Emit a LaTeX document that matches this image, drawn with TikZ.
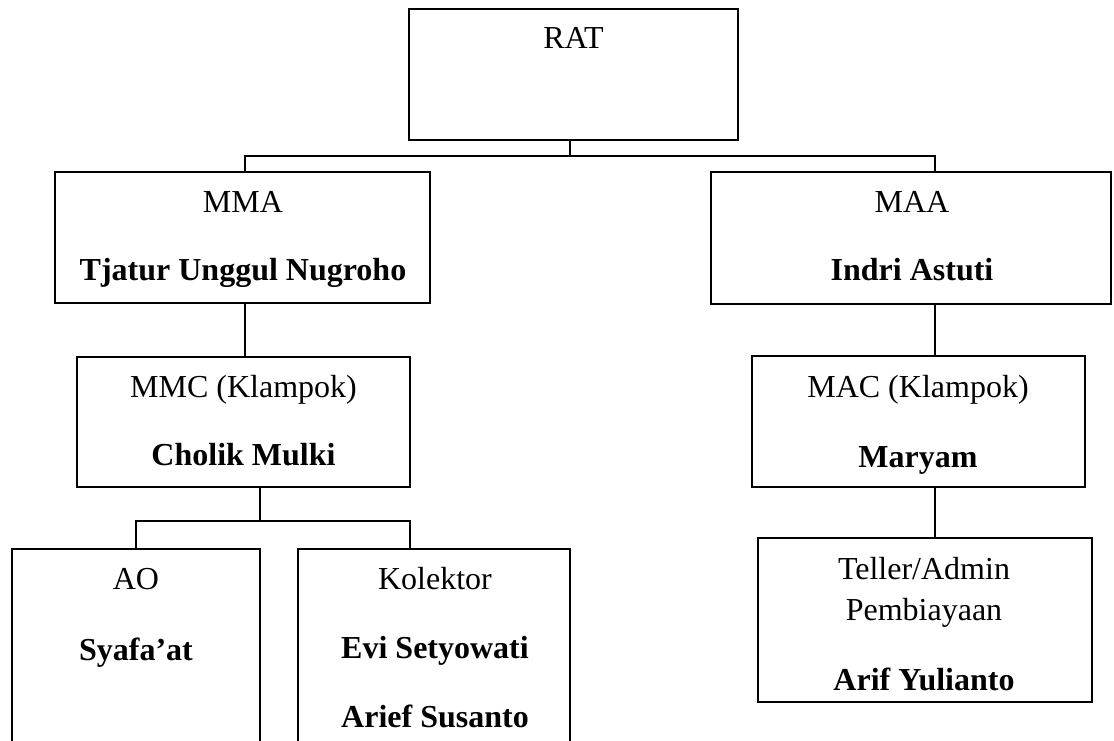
\documentclass[tikz,border=0pt]{standalone}
\usepackage{fontspec}
\setmainfont{Liberation Serif}
\begin{document}
\begin{tikzpicture}[x=1pt,y=-1pt,
  line width=1.9pt,
  box/.style={draw, line width=1.9pt, inner sep=0pt, outer sep=0pt},
  lbl/.style={font=\fontsize{32}{38}\selectfont, anchor=base, inner sep=0pt},
  blbl/.style={font=\fontsize{32}{38}\selectfont\bfseries, anchor=base, inner sep=0pt}]
\useasboundingbox (0,0) rectangle (1114,740);
\clip (0,0) rectangle (1114,740);
% boxes
\node[box, minimum width=329pt, minimum height=131pt] (rat) at (573.5,74.5) {};
\node[box, minimum width=375pt, minimum height=131pt] (mma) at (242.5,237.5) {};
\node[box, minimum width=400pt, minimum height=132pt] (maa) at (911,238) {};
\node[box, minimum width=333pt, minimum height=130pt] (mmc) at (243.5,422) {};
\node[box, minimum width=333pt, minimum height=131pt] (mac) at (918.5,421.5) {};
\node[box, minimum width=334pt, minimum height=164pt] (tel) at (925,620) {};
\node[box, minimum width=248pt, minimum height=211pt] (ao) at (136,654.5) {};
\node[box, minimum width=272pt, minimum height=211pt] (kol) at (434,654.5) {};
% texts
\node[lbl] (tRat) at (573.5,48) {RAT};
\node[lbl] (tMma) at (243,212) {MMA};
\node[blbl] (nMma) at (243,280) {Tjatur Unggul Nugroho};
\node[lbl] (tMaa) at (912,212) {MAA};
\node[blbl] (nMaa) at (912,280) {Indri Astuti};
\node[lbl] (tMmc) at (243.5,397) {MMC (Klampok)};
\node[blbl] (nMmc) at (243.5,465) {Cholik Mulki};
\node[lbl] (tMac) at (918,397) {MAC (Klampok)};
\node[blbl] (nMac) at (918,467) {Maryam};
\node[lbl] (tTel1) at (924,579) {Teller/Admin};
\node[lbl] (tTel2) at (924,620) {Pembiayaan};
\node[blbl] (nTel) at (924,690) {Arif Yulianto};
\node[lbl] (tAo) at (136,589) {AO};
\node[blbl] (nAo) at (136,660) {Syafa’at};
\node[lbl] (tKol) at (435,589) {Kolektor};
\node[blbl] (nKol1) at (435,658) {Evi Setyowati};
\node[blbl] (nKol2) at (435,727) {Arief Susanto};
% connector helpers
\coordinate (ytop) at (0,156);
\coordinate (ybot) at (0,521);
\coordinate (xa) at (245,0);
\coordinate (xb) at (935,0);
\coordinate (xc) at (260,0);
\coordinate (xd) at (410,0);
% connectors
\draw ([xshift=-3.5pt]rat.south) -- ([xshift=-3.5pt]rat.south |- ytop);
\draw (xa |- mma.north) |- (ytop -| xb) -- (xb |- maa.north);
\draw (mma.south -| xa) -- (mmc.north -| xa);
\draw (maa.south -| xb) -- (mac.north -| xb);
\draw (mac.south -| xb) -- (tel.north -| xb);
\draw (mmc.south -| xc) -- (ybot -| xc);
\draw (ao.north) |- (ybot -| xd) -- (kol.north -| xd);
\end{tikzpicture}
\end{document}
